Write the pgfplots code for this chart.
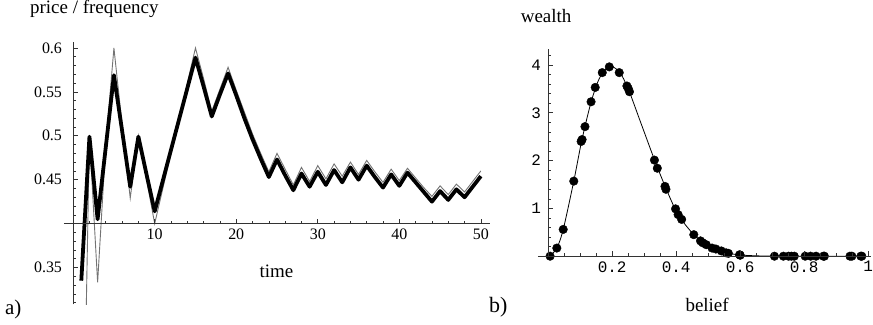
\documentclass[border=0pt]{standalone}
\usepackage{fontspec}
\setmainfont{Liberation Serif}
\newfontfamily\monofont{Liberation Mono}
\usepackage{pgfplots}
\pgfplotsset{compat=1.18}
\begin{document}
\begin{tikzpicture}[x=1pt,y=1pt]
\path (0,0) rectangle (873,325);
% ---------------- panel a ----------------
\begin{axis}[at={(63.9pt,20pt)}, anchor=south west, scale only axis,
  width=426.9pt, height=263.1pt, xmin=-1.15, xmax=51.1, ymin=0.308, ymax=0.607,
  axis lines=none, clip mode=individual]
\addplot[color=black!55, line width=0.9pt] coordinates {
(1,0) (2,0.5) (3,0.333) (4,0.49) (5,0.6) (6,0.513) (7,0.429) (8,0.5) (9,0.45) (10,0.4)
(11,0.44) (12,0.48) (13,0.52) (14,0.56) (15,0.6) (16,0.565) (17,0.528) (18,0.553) (19,0.578)
(20,0.552) (21,0.527) (22,0.502) (23,0.48) (24,0.459) (25,0.48) (26,0.462) (27,0.444)
(28,0.464) (29,0.448) (30,0.466) (31,0.451) (32,0.468) (33,0.454) (34,0.47) (35,0.456)
(36,0.472) (37,0.459) (38,0.447) (39,0.462) (40,0.449) (41,0.463) (42,0.452) (43,0.441)
(44,0.431) (45,0.443) (46,0.433) (47,0.445) (48,0.436) (49,0.448) (50,0.46)};
\addplot[black, line width=3.8pt, line join=round] coordinates {
(1,0.335) (2,0.499) (3,0.405) (4,0.487) (5,0.569) (6,0.506) (7,0.442) (8,0.499) (9,0.456)
(10,0.414) (11,0.449) (12,0.484) (13,0.519) (14,0.554) (15,0.589) (16,0.556) (17,0.522)
(18,0.547) (19,0.571) (20,0.546) (21,0.52) (22,0.496) (23,0.474) (24,0.453) (25,0.473)
(26,0.455) (27,0.438) (28,0.457) (29,0.442) (30,0.459) (31,0.444) (32,0.461) (33,0.447)
(34,0.464) (35,0.45) (36,0.466) (37,0.453) (38,0.441) (39,0.456) (40,0.443) (41,0.458)
(42,0.447) (43,0.436) (44,0.425) (45,0.437) (46,0.427) (47,0.439) (48,0.43) (49,0.442)
(50,0.454)};
% axes
\draw[line width=0.8pt, black!80] (axis cs:-1.15,0.4) -- (axis cs:51.1,0.4);
\draw[line width=0.8pt, black!80] (axis cs:0,0.308) -- (axis cs:0,0.607);
\pgfplotsinvokeforeach{10,20,30,40,50}{
  \draw[line width=0.7pt, black!80] (axis cs:#1,0.4) -- ++(0pt,5pt);
  \node[anchor=north, inner sep=0pt, font=\fontsize{16}{18}\selectfont] at ([yshift=-5pt]axis cs:#1,0.4) {#1};}
\pgfplotsinvokeforeach{2,4,6,8,12,14,16,18,22,24,26,28,32,34,36,38,42,44,46,48}{
  \draw[line width=0.6pt, black!80] (axis cs:#1,0.4) -- ++(0pt,3pt);}
\pgfplotsinvokeforeach{0.35,0.45,0.5,0.55,0.6}{
  \draw[line width=0.7pt, black!80] (axis cs:0,#1) -- ++(5pt,0pt);
  \node[anchor=east, inner sep=0pt, font=\fontsize{16}{18}\selectfont] at ([xshift=-11pt]axis cs:0,#1) {#1};}
\draw[line width=0.7pt, black!80] (axis cs:0,0.4) -- ++(5pt,0pt);
\pgfplotsinvokeforeach{0.31,0.32,0.33,0.34,0.36,0.37,0.38,0.39,0.41,0.42,0.43,0.44,0.46,0.47,0.48,0.49,0.51,0.52,0.53,0.54,0.56,0.57,0.58,0.59}{
  \draw[line width=0.6pt, black!80] (axis cs:0,#1) -- ++(3pt,0pt);}
\end{axis}
% ---------------- panel b ----------------
\begin{axis}[at={(539pt,68.3pt)}, anchor=south west, scale only axis,
  width=333.5pt, height=207.9pt, xmin=-0.032, xmax=1.008, ymin=0, ymax=4.34,
  axis lines=none, clip mode=individual]
\addplot[black, line width=0.8pt, smooth, tension=0.5] coordinates {
(0.005,0) (0.027,0.17) (0.047,0.56) (0.08,1.57) (0.105,2.42) (0.134,3.22) (0.16,3.72)
(0.19,3.97) (0.222,3.86) (0.25,3.5) (0.29,2.78) (0.332,2.02) (0.368,1.42) (0.406,0.87)
(0.455,0.45) (0.494,0.24) (0.53,0.13) (0.566,0.06) (0.6,0.025) (0.65,0.008) (0.7,0.002)
(0.8,0) (0.98,0)};
\addplot[black, only marks, mark=*, mark size=4.3pt] coordinates {
(0.006,0.0) (0.027,0.17) (0.047,0.56) (0.080,1.57) (0.103,2.40) (0.106,2.44) (0.115,2.71)
(0.134,3.23) (0.147,3.53) (0.169,3.84) (0.191,3.96) (0.222,3.84) (0.246,3.56) (0.250,3.51)
(0.254,3.44) (0.332,2.01) (0.341,1.84) (0.365,1.46) (0.368,1.40) (0.398,0.99) (0.406,0.87)
(0.417,0.77) (0.455,0.45) (0.476,0.32) (0.483,0.28) (0.494,0.24) (0.512,0.17) (0.524,0.15)
(0.541,0.11) (0.556,0.07) (0.563,0.06) (0.598,0.03) (0.600,0.02) (0.707,0) (0.735,0)
(0.751,0) (0.760,0) (0.769,0) (0.803,0) (0.820,0) (0.837,0) (0.860,0) (0.863,0) (0.943,0)
(0.949,0) (0.977,0) (0.980,0)};
\draw[line width=0.8pt, black!80] (axis cs:-0.032,0) -- (axis cs:1.008,0);
\draw[line width=0.8pt, black!80] (axis cs:0,0) -- (axis cs:0,4.34);
\pgfplotsinvokeforeach{0.2,0.4,0.6,0.8}{
  \draw[line width=0.7pt, black!80] (axis cs:#1,0) -- ++(0pt,5pt);
  \node[anchor=north, inner sep=0pt, font=\monofont\fontsize{16}{18}\selectfont] at ([yshift=-5pt]axis cs:#1,0) {#1};}
\draw[line width=0.7pt, black!80] (axis cs:1,0) -- ++(0pt,5pt);
\node[anchor=north, inner sep=0pt, font=\monofont\fontsize{16}{18}\selectfont] at ([yshift=-5pt]axis cs:1,0) {1};
\pgfplotsinvokeforeach{0.05,0.1,0.15,0.25,0.3,0.35,0.45,0.5,0.55,0.65,0.7,0.75,0.85,0.9,0.95}{
  \draw[line width=0.6pt, black!80] (axis cs:#1,0) -- ++(0pt,3pt);}
\pgfplotsinvokeforeach{1,2,3,4}{
  \draw[line width=0.7pt, black!80] (axis cs:0,#1) -- ++(5pt,0pt);
  \node[anchor=east, inner sep=0pt, font=\monofont\fontsize{16}{18}\selectfont] at ([xshift=-7pt]axis cs:0,#1) {#1};}
\pgfplotsinvokeforeach{0.2,0.4,0.6,0.8,1.2,1.4,1.6,1.8,2.2,2.4,2.6,2.8,3.2,3.4,3.6,3.8,4.2}{
  \draw[line width=0.6pt, black!80] (axis cs:0,#1) -- ++(3pt,0pt);}
\end{axis}
% ---------------- labels ----------------
\node[anchor=base west, inner sep=0pt, font=\fontsize{19}{22}\selectfont] at (30,311) {price / frequency};
\node[anchor=base west, inner sep=0pt, font=\fontsize{19}{22}\selectfont] at (260,47) {time};
\node[anchor=base west, inner sep=0pt, font=\fontsize{21}{24}\selectfont] at (5,10) {a)};
\node[anchor=base west, inner sep=0pt, font=\fontsize{19}{22}\selectfont] at (521.7,302) {wealth};
\node[anchor=base west, inner sep=0pt, font=\fontsize{19}{22}\selectfont] at (686.7,13.3) {belief};
\node[anchor=base west, inner sep=0pt, font=\fontsize{22}{26}\selectfont] at (490,12) {b)};
\end{tikzpicture}
\end{document}
